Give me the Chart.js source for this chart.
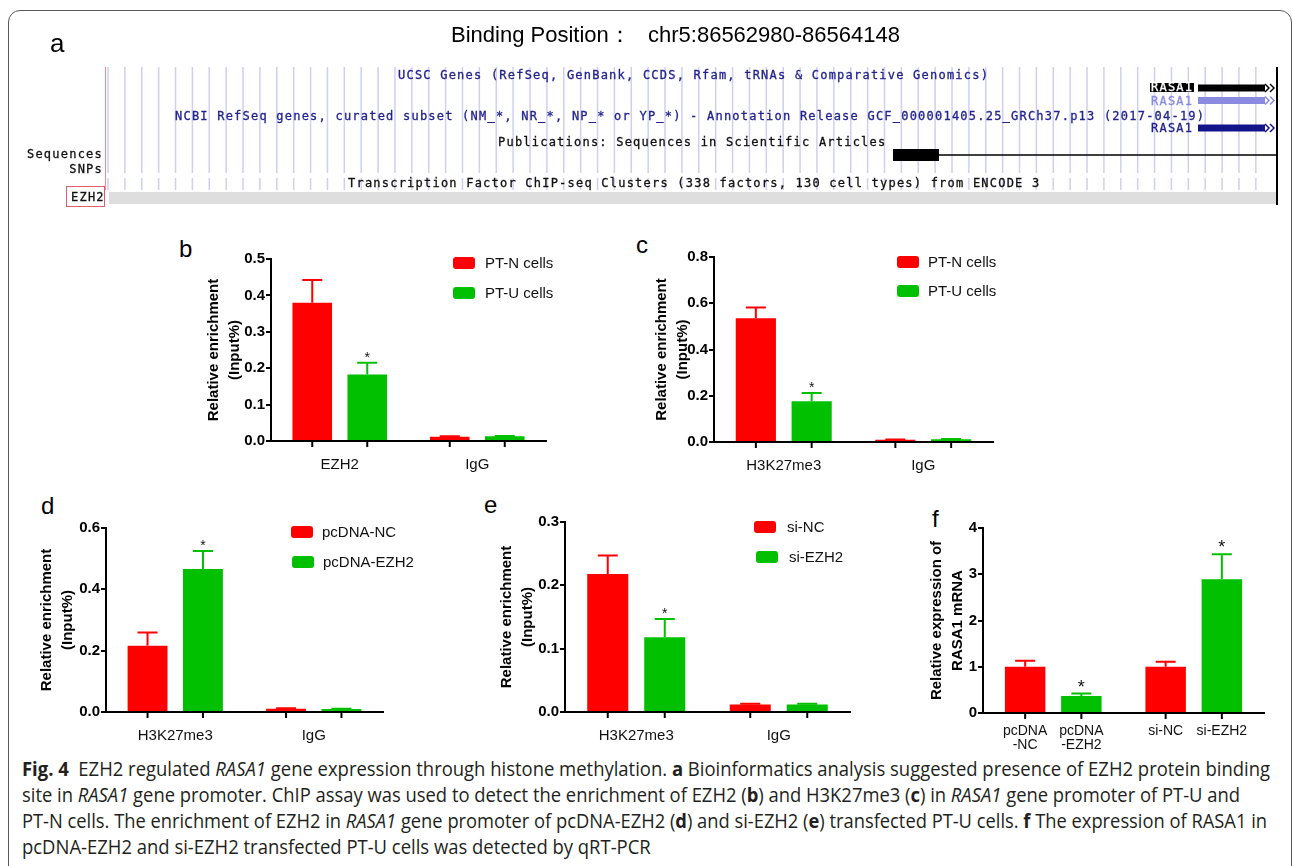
<!DOCTYPE html>
<html>
<head>
<meta charset="utf-8">
<title>Fig. 4</title>
<script src="https://cdn.jsdelivr.net/npm/chart.js@4.4.1/dist/chart.umd.min.js"></script>
<style>
  html, body { margin: 0; padding: 0; background: #fff; }
  #page { position: relative; width: 1293px; height: 866px; overflow: hidden; font-family: 'Liberation Sans', Arial, sans-serif; }
  .frame { position: absolute; left: 8px; top: 10px; width: 1284px; height: 1000px; border: 1.5px solid #5a5a5a; border-radius: 12px; box-sizing: border-box; }
  .plab { position: absolute; font-size: 24px; line-height: 24px; color: #000; }
  .gb { position: absolute; font-family: 'DejaVu Sans Mono', monospace; font-size: 12px; line-height: 12px; letter-spacing: 1.22px; white-space: pre; color: #111; -webkit-text-stroke: 0.3px currentColor; }
  .gb.blue { color: #23238e; }
  canvas.chart { position: absolute; }
  .cap { position: absolute; left: 22px; font-family: 'Open Sans', sans-serif; font-size: 20px; line-height: 20px; white-space: nowrap; transform-origin: 0 0; color: #231f20; }
</style>
</head>
<body>
<div id="page">
  <div class="frame"></div>
  <canvas id="gbCanvas" width="1293" height="220" style="position:absolute;left:0;top:0"></canvas>

  <div class="plab" style="left:50px;top:30px;font-size:26px;line-height:26px">a</div>
  <div style="position:absolute;left:451px;top:24px;font-size:22px;line-height:22px;white-space:pre">Binding Position：</div>
  <div style="position:absolute;left:648px;top:24px;font-size:22px;line-height:22px;white-space:pre">chr5:86562980-86564148</div>

  <div class="gb blue" style="left:398px;top:69px">UCSC Genes (RefSeq, GenBank, CCDS, Rfam, tRNAs &amp; Comparative Genomics)</div>
  <div class="gb blue" style="left:175px;top:110px">NCBI RefSeq genes, curated subset (NM_*, NR_*, NP_* or YP_*) - Annotation Release GCF_000001405.25_GRCh37.p13 (2017-04-19)</div>
  <div class="gb" style="left:498px;top:136px">Publications: Sequences in Scientific Articles</div>
  <div class="gb" style="left:348px;top:177px">Transcription Factor ChIP-seq Clusters (338 factors, 130 cell types) from ENCODE 3</div>
  <div class="gb" style="right:1190px;top:148px">Sequences</div>
  <div class="gb" style="right:1190px;top:163px">SNPs</div>
  <div style="position:absolute;left:66px;top:186px;width:39px;height:21px;border:1.5px solid #e35b6a;box-sizing:border-box"></div>
  <div class="gb" style="left:71px;top:191px">EZH2</div>
  <div class="gb" style="left:1150px;top:83px;line-height:9px;background:#000;color:#fff;padding:0 1px">RASA1</div>
  <div class="gb" style="left:1151px;top:95px;color:#8a8ae0">RASA1</div>
  <div class="gb blue" style="left:1151px;top:122px">RASA1</div>

  <div class="plab" style="left:179px;top:237px">b</div>
  <div class="plab" style="left:636px;top:233px">c</div>
  <div class="plab" style="left:41px;top:494px">d</div>
  <div class="plab" style="left:484px;top:493px">e</div>
  <div class="plab" style="left:932px;top:507px">f</div>

  <div class="cap" id="cap1" style="top:759px"><b>Fig. 4</b>&nbsp; EZH2 regulated <i>RASA1</i> gene expression through histone methylation. <b>a</b> Bioinformatics analysis suggested presence of EZH2 protein binding</div>
  <div class="cap" id="cap2" style="top:785px">site in <i>RASA1</i> gene promoter. ChIP assay was used to detect the enrichment of EZH2 (<b>b</b>) and H3K27me3 (<b>c</b>) in <i>RASA1</i> gene promoter of PT-U and</div>
  <div class="cap" id="cap3" style="top:811px">PT-N cells. The enrichment of EZH2 in <i>RASA1</i> gene promoter of pcDNA-EZH2 (<b>d</b>) and si-EZH2 (<b>e</b>) transfected PT-U cells. <b>f</b> The expression of RASA1 in</div>
  <div class="cap" id="cap4" style="top:837px">pcDNA-EZH2 and si-EZH2 transfected PT-U cells was detected by qRT-PCR</div>
</div>

<script>
const RED = '#ff0000';
const GREEN = '#00c000';
const FONT = "'Liberation Sans', Arial, sans-serif";

// b: EZH2 ChIP in PT-N / PT-U cells
const bCats = ['EZH2', 'IgG'];
const bPTN = [0.38, 0.012];
const bPTNErr = [0.062, 0.001];
const bPTU = [0.183, 0.013];
const bPTUErr = [0.032, 0.001];
const bPTUStar = ['*', ''];
const bTicks = [0, 0.1, 0.2, 0.3, 0.4, 0.5];

// c: H3K27me3 ChIP in PT-N / PT-U cells
const cCats = ['H3K27me3', 'IgG'];
const cPTN = [0.535, 0.010];
const cPTNErr = [0.047, 0.001];
const cPTU = [0.176, 0.012];
const cPTUErr = [0.036, 0.001];
const cPTUStar = ['*', ''];
const cTicks = [0, 0.2, 0.4, 0.6, 0.8];

// d: pcDNA-NC / pcDNA-EZH2
const dCats = ['H3K27me3', 'IgG'];
const dNC = [0.216, 0.011];
const dNCErr = [0.043, 0.001];
const dEZH2 = [0.466, 0.010];
const dEZH2Err = [0.059, 0.001];
const dEZH2Star = ['*', ''];
const dTicks = [0, 0.2, 0.4, 0.6];

// e: si-NC / si-EZH2
const eCats = ['H3K27me3', 'IgG'];
const eNC = [0.218, 0.012];
const eNCErr = [0.029, 0.001];
const eEZH2 = [0.118, 0.012];
const eEZH2Err = [0.029, 0.001];
const eEZH2Star = ['*', ''];
const eTicks = [0, 0.1, 0.2, 0.3];

// f: RASA1 mRNA, control (red) vs treated (green) in each pair
const fGroups = ['pcDNA', 'si'];
const fCtrlLabels = [['pcDNA', '-NC'], ['si-NC']];
const fCtrl = [1.0, 1.0];
const fCtrlErr = [0.13, 0.11];
const fTreatLabels = [['pcDNA', '-EZH2'], ['si-EZH2']];
const fTreat = [0.37, 2.89];
const fTreatErr = [0.05, 0.54];
const fTreatStar = ['*', '*'];
const fTicks = [0, 1, 2, 3, 4];

const ENRICH_TITLE = ['Relative enrichment', '(Input%)'];

// error bars, significance stars, tick marks under bars, bar labels, legend
const extras = {
  id: 'extras',
  afterDatasetsDraw(chart, args, opts) {
    const ctx = chart.ctx;
    const y = chart.scales.y;
    const base = chart.chartArea.bottom;
    chart.data.datasets.forEach((ds, i) => {
      chart.getDatasetMeta(i).data.forEach((bar, j) => {
        const top = y.getPixelForValue(ds.data[j] + ds.errors[j]);
        ctx.save();
        ctx.strokeStyle = ds.backgroundColor;
        ctx.lineWidth = 2;
        ctx.beginPath();
        ctx.moveTo(bar.x, bar.y);
        ctx.lineTo(bar.x, top);
        ctx.moveTo(bar.x - 10, top);
        ctx.lineTo(bar.x + 10, top);
        ctx.stroke();

        ctx.strokeStyle = '#000';
        ctx.beginPath();
        ctx.moveTo(bar.x, base);
        ctx.lineTo(bar.x, base + 6);
        ctx.stroke();

        if (ds.stars && ds.stars[j]) {
          ctx.fillStyle = '#111';
          ctx.font = (opts.starSize || 14) + 'px ' + FONT;
          ctx.textAlign = 'center';
          ctx.textBaseline = 'alphabetic';
          ctx.fillText(ds.stars[j], bar.x, top - 1);
        }
        if (ds.barLabels) {
          ctx.fillStyle = '#111';
          ctx.font = '14px ' + FONT;
          ctx.textAlign = 'center';
          ctx.textBaseline = 'middle';
          ds.barLabels[j].forEach((t, k) => ctx.fillText(t, bar.x, base + 18 + k * 14));
        }
        ctx.restore();
      });
    });

    if (opts.legend) {
      const lg = opts.legend;
      const x0 = chart.chartArea.left + lg.dx;
      chart.data.datasets.forEach((ds, i) => {
        const y0 = chart.chartArea.top + lg.dy + i * lg.gap;
        const sh = lg.shift ? lg.shift[i] : 0;
        ctx.save();
        ctx.fillStyle = ds.backgroundColor;
        ctx.beginPath();
        ctx.roundRect(x0 + sh, y0, 22, 12, 3);
        ctx.fill();
        ctx.fillStyle = '#111';
        ctx.font = '15px ' + FONT;
        ctx.textAlign = 'left';
        ctx.textBaseline = 'middle';
        ctx.fillText(ds.label, x0 + lg.textDx + sh, y0 + 6.5);
        ctx.restore();
      });
    }
  }
};

function makePanel(p) {
  const padL = 90, padT = 25, padR = 90, padB = 55;
  const cv = document.createElement('canvas');
  cv.className = 'chart';
  cv.width = p.box.R - p.box.L + padL + padR;
  cv.height = p.box.B - p.box.T + padT + padB;
  cv.style.left = (p.box.L - padL) + 'px';
  cv.style.top = (p.box.T - padT) + 'px';
  document.getElementById('page').appendChild(cv);
  const lh = 21;

  return new Chart(cv.getContext('2d'), {
    type: 'bar',
    data: {
      labels: p.cats,
      datasets: p.series.map(s => ({
        label: s.name,
        data: s.values,
        errors: s.errors,
        stars: s.stars,
        barLabels: s.barLabels,
        backgroundColor: s.color,
        borderWidth: 0,
        categoryPercentage: 0.8,
        barPercentage: 0.72
      }))
    },
    options: {
      responsive: false,
      animation: false,
      devicePixelRatio: 1,
      layout: { padding: { left: 0, top: padT, right: padR, bottom: 0 } },
      plugins: {
        legend: { display: false },
        tooltip: { enabled: false },
        extras: { legend: p.legend, starSize: p.starSize }
      },
      scales: {
        x: {
          z: 1,
          grid: { display: false, drawTicks: false },
          border: { color: '#000', width: 2 },
          ticks: {
            display: p.showCats !== false,
            color: '#111',
            font: { size: 15, family: FONT },
            padding: 15,
            maxRotation: 0,
            autoSkip: false
          },
          afterFit: s => { s.height = padB; }
        },
        y: {
          min: p.ticks[0],
          max: p.ticks[p.ticks.length - 1],
          afterBuildTicks: s => { s.ticks = p.ticks.map(v => ({ value: v })); },
          grid: { drawOnChartArea: false, color: '#000', lineWidth: 2, tickLength: 5 },
          border: { color: '#000', width: 2 },
          ticks: {
            color: '#000',
            font: { size: 15, weight: 'bold', family: FONT },
            padding: 1,
            callback: v => Number(v).toFixed(p.dec)
          },
          title: {
            display: true,
            text: p.title,
            color: '#000',
            font: { size: 15, weight: 'bold', family: FONT, lineHeight: 1.4 },
            padding: { top: padL - p.gap - lh / 2, bottom: 0 }
          },
          afterFit: s => { s.width = padL; }
        }
      }
    },
    plugins: [extras]
  });
}

makePanel({
  box: { L: 271, R: 546, T: 259, B: 441 }, gap: 57,
  cats: bCats, ticks: bTicks, dec: 1, title: ENRICH_TITLE,
  series: [
    { name: 'PT-N cells', values: bPTN, errors: bPTNErr, color: RED },
    { name: 'PT-U cells', values: bPTU, errors: bPTUErr, stars: bPTUStar, color: GREEN }
  ],
  legend: { dx: 182, dy: -2, gap: 30, textDx: 32 }
});

makePanel({
  box: { L: 714, R: 993, T: 257, B: 442 }, gap: 52,
  cats: cCats, ticks: cTicks, dec: 1, title: ENRICH_TITLE,
  series: [
    { name: 'PT-N cells', values: cPTN, errors: cPTNErr, color: RED },
    { name: 'PT-U cells', values: cPTU, errors: cPTUErr, stars: cPTUStar, color: GREEN }
  ],
  legend: { dx: 183, dy: -1, gap: 29, textDx: 31 }
});

makePanel({
  box: { L: 106, R: 383, T: 528, B: 712 }, gap: 59,
  cats: dCats, ticks: dTicks, dec: 1, title: ENRICH_TITLE,
  series: [
    { name: 'pcDNA-NC', values: dNC, errors: dNCErr, color: RED },
    { name: 'pcDNA-EZH2', values: dEZH2, errors: dEZH2Err, stars: dEZH2Star, color: GREEN }
  ],
  legend: { dx: 185, dy: -2, gap: 30, textDx: 31, shift: [0, 1] }
});

makePanel({
  box: { L: 565, R: 850, T: 522, B: 712 }, gap: 58,
  cats: eCats, ticks: eTicks, dec: 1, title: ENRICH_TITLE,
  series: [
    { name: 'si-NC', values: eNC, errors: eNCErr, color: RED },
    { name: 'si-EZH2', values: eEZH2, errors: eEZH2Err, stars: eEZH2Star, color: GREEN }
  ],
  legend: { dx: 189, dy: -1, gap: 30, textDx: 33, shift: [0, 2] }
});

makePanel({
  box: { L: 983, R: 1264, T: 528, B: 713 }, gap: 46,
  cats: fGroups, showCats: false, ticks: fTicks, dec: 0,
  title: ['Relative expression of', 'RASA1 mRNA'], starSize: 18,
  series: [
    { name: 'control', values: fCtrl, errors: fCtrlErr, barLabels: fCtrlLabels, color: RED },
    { name: 'treated', values: fTreat, errors: fTreatErr, barLabels: fTreatLabels, stars: fTreatStar, color: GREEN }
  ]
});

// panel a: genome browser track picture
(function drawBrowser() {
  const ctx = document.getElementById('gbCanvas').getContext('2d');
  ctx.lineWidth = 1.5;
  ctx.strokeStyle = '#cfcff3';
  for (let x = 108; x < 1272; x += 16.88) {
    ctx.beginPath();
    ctx.moveTo(x, 67); ctx.lineTo(x, 173);
    ctx.moveTo(x, 178); ctx.lineTo(x, 190);
    ctx.stroke();
  }
  ctx.strokeStyle = '#f08a98';
  ctx.lineWidth = 1;
  ctx.beginPath();
  ctx.moveTo(105.5, 67); ctx.lineTo(105.5, 190);
  ctx.stroke();

  ctx.fillStyle = '#dedede';
  ctx.fillRect(109, 192, 1168, 12);

  ctx.strokeStyle = '#000';
  ctx.lineWidth = 2;
  ctx.beginPath();
  ctx.moveTo(1277, 67); ctx.lineTo(1277, 205);
  ctx.stroke();

  const rows = [[88, '#000000'], [100.5, '#8a8ae0'], [128, '#14148a']];
  rows.forEach(([cy, col]) => {
    ctx.fillStyle = col;
    ctx.fillRect(1198, cy - 3.5, 67, 7);
    ctx.strokeStyle = col;
    ctx.lineWidth = 1.5;
    ctx.beginPath();
    ctx.moveTo(1265, cy - 4); ctx.lineTo(1269, cy); ctx.lineTo(1265, cy + 4);
    ctx.moveTo(1270, cy - 4); ctx.lineTo(1274, cy); ctx.lineTo(1270, cy + 4);
    ctx.stroke();
  });

  ctx.fillStyle = '#000';
  ctx.fillRect(893, 149, 46, 12);
  ctx.lineWidth = 1.5;
  ctx.strokeStyle = '#000';
  ctx.beginPath();
  ctx.moveTo(939, 155); ctx.lineTo(1277, 155);
  ctx.stroke();
})();

// squeeze caption lines to the widths of the original
function fitCaption() {
  const targets = { cap1: 1248, cap2: 1218, cap3: 1245 };
  let s1 = 1;
  Object.keys(targets).forEach(id => {
    const el = document.getElementById(id);
    const w = el.getBoundingClientRect().width;
    const s = targets[id] / w;
    if (id === 'cap1') s1 = s;
    el.style.transform = 'scaleX(' + s + ')';
  });
  document.getElementById('cap4').style.transform = 'scaleX(' + s1 + ')';
}
if (document.fonts && document.fonts.ready) {
  document.fonts.ready.then(fitCaption);
} else {
  fitCaption();
}
</script>
</body>
</html>
